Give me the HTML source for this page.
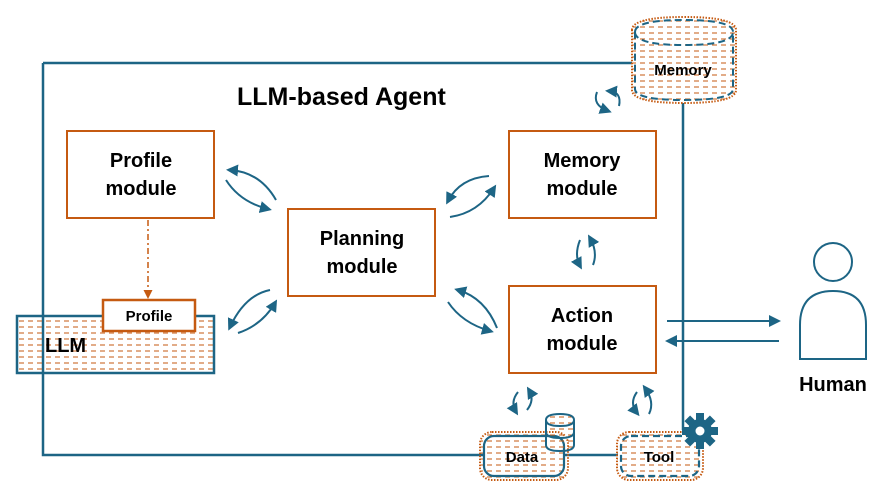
<!DOCTYPE html>
<html><head><meta charset="utf-8"><style>
body{margin:0;background:#fff}
svg{display:block}
text{font-family:"Liberation Sans",sans-serif;font-weight:bold;fill:#000}
</style></head><body>
<svg width="889" height="495" viewBox="0 0 889 495" xmlns="http://www.w3.org/2000/svg">
<defs>
<pattern id="h" width="9" height="6" patternUnits="userSpaceOnUse">
<line x1="1" y1="3" x2="6" y2="3" stroke="#c55a11" stroke-width="1"/>
</pattern>
<marker id="a" markerWidth="6" markerHeight="6" refX="4" refY="3" orient="auto" markerUnits="strokeWidth">
<path d="M0,0 L6,3 L0,6 Z" fill="#1d6585"/>
</marker>
<marker id="o" markerWidth="6" markerHeight="6" refX="4" refY="3" orient="auto" markerUnits="strokeWidth">
<path d="M0,0 L6,3 L0,6 Z" fill="#c55a11"/>
</marker>
</defs>
<g stroke="#1d6585" stroke-width="2.5" fill="none">
<path d="M43,63 H632 M43,63 V455 H483 M565,455 H618 M683,103 V430"/>
</g>
<text x="237" y="105" font-size="25">LLM-based Agent</text>

<!-- LLM -->
<rect x="17" y="316" width="197" height="57" fill="url(#h)" stroke="#1d6585" stroke-width="2.5"/>
<text x="45" y="352" font-size="20">LLM</text>
<rect x="103" y="300" width="92" height="31" fill="#fff" stroke="#c55a11" stroke-width="2.5"/>
<text x="149" y="321" font-size="15" text-anchor="middle">Profile</text>
<path d="M148,220 V296" stroke="#c55a11" stroke-width="1.5" stroke-dasharray="6,3,2,3" marker-end="url(#o)" fill="none"/>

<g fill="#fff" stroke="#c55a11" stroke-width="2">
<rect x="67" y="131" width="147" height="87"/>
<rect x="288" y="209" width="147" height="87"/>
<rect x="509" y="131" width="147" height="87"/>
<rect x="509" y="286" width="147" height="87"/>
</g>
<g font-size="20" text-anchor="middle">
<text x="141" y="167">Profile</text><text x="141" y="195">module</text>
<text x="362" y="245">Planning</text><text x="362" y="273">module</text>
<text x="582" y="167">Memory</text><text x="582" y="195">module</text>
<text x="582" y="322">Action</text><text x="582" y="350">module</text>
</g>

<!-- cycle arrows -->
<g stroke="#1d6585" stroke-width="2" fill="none" marker-end="url(#a)">
<path d="M276,200 Q260,172 230,170"/>
<path d="M226,180 Q240,202 268,209"/>
<path d="M270,290 Q245,295 230,327"/>
<path d="M238,333 Q262,325 275,303"/>
<path d="M489,176 Q460,178 448,201"/>
<path d="M450,217 Q478,213 494,188"/>
<path d="M497,328 Q485,298 458,290"/>
<path d="M448,302 Q462,323 490,331"/>
<path d="M580,240 Q574,255 580,266"/>
<path d="M593,265 Q598,252 590,238"/>
<path d="M597,92 Q592,105 608,111"/>
<path d="M619,106 Q622,92 609,91"/>
<path d="M518,392 Q510,402 516,412"/>
<path d="M527,410 Q535,400 529,390"/>
<path d="M637,392 Q629,403 637,413"/>
<path d="M649,414 Q655,402 645,388"/>
</g>

<!-- memory cylinder -->
<path d="M632,30 Q632,17 684,17 Q736,17 736,30 V90 Q736,103 684,103 Q632,103 632,90 Z" fill="url(#h)" stroke="#c55a11" stroke-width="2" stroke-dasharray="1.5,1.5"/>
<path d="M635,32 Q635,20 684,20 Q733,20 733,32 V89 Q733,100 684,100 Q635,100 635,89 Z M635,32 Q635,45 684,45 Q733,45 733,32" fill="none" stroke="#1d6585" stroke-width="2" stroke-dasharray="7,4"/>
<text x="683" y="75" font-size="15" text-anchor="middle">Memory</text>

<!-- human -->
<path d="M667,321 H777" stroke="#1d6585" stroke-width="2" marker-end="url(#a)"/>
<path d="M779,341 H669" stroke="#1d6585" stroke-width="2" marker-end="url(#a)"/>
<circle cx="833" cy="262" r="19" fill="#fff" stroke="#1d6585" stroke-width="2"/>
<path d="M800,359 V325 Q800,291 833,291 Q866,291 866,325 V359 Z" fill="#fff" stroke="#1d6585" stroke-width="2"/>
<text x="833" y="391" font-size="20" text-anchor="middle">Human</text>

<!-- Data -->
<rect x="480" y="432" width="88" height="48" rx="12" fill="url(#h)" stroke="#c55a11" stroke-width="2" stroke-dasharray="1.5,1.5"/>
<rect x="484" y="436" width="80" height="40" rx="10" fill="none" stroke="#1d6585" stroke-width="2.2"/>
<text x="522" y="462" font-size="15" text-anchor="middle">Data</text>
<g fill="url(#h)" stroke="#1d6585" stroke-width="2">
<path d="M546,420 Q546,414 560,414 Q574,414 574,420 V445 Q574,451 560,451 Q546,451 546,445 Z"/>
<path d="M546,420 Q546,426 560,426 Q574,426 574,420 M546,432 Q546,438 560,438 Q574,438 574,432" fill="none"/>
</g>
<!-- Tool -->
<rect x="617" y="432" width="86" height="48" rx="12" fill="url(#h)" stroke="#c55a11" stroke-width="2" stroke-dasharray="1.5,1.5"/>
<rect x="621" y="436" width="78" height="40" rx="10" fill="none" stroke="#1d6585" stroke-width="2.2" stroke-dasharray="7,4"/>
<text x="659" y="462" font-size="15" text-anchor="middle">Tool</text>
<g transform="translate(700,431)" fill="#1d6585">
<circle r="12"/>
<g id="t"><rect x="-4" y="-18" width="8" height="8"/></g>
<use href="#t" transform="rotate(45)"/><use href="#t" transform="rotate(90)"/><use href="#t" transform="rotate(135)"/>
<use href="#t" transform="rotate(180)"/><use href="#t" transform="rotate(225)"/><use href="#t" transform="rotate(270)"/><use href="#t" transform="rotate(315)"/>
<circle r="4.5" fill="#fff"/>
</g>
</svg>
</body></html>
